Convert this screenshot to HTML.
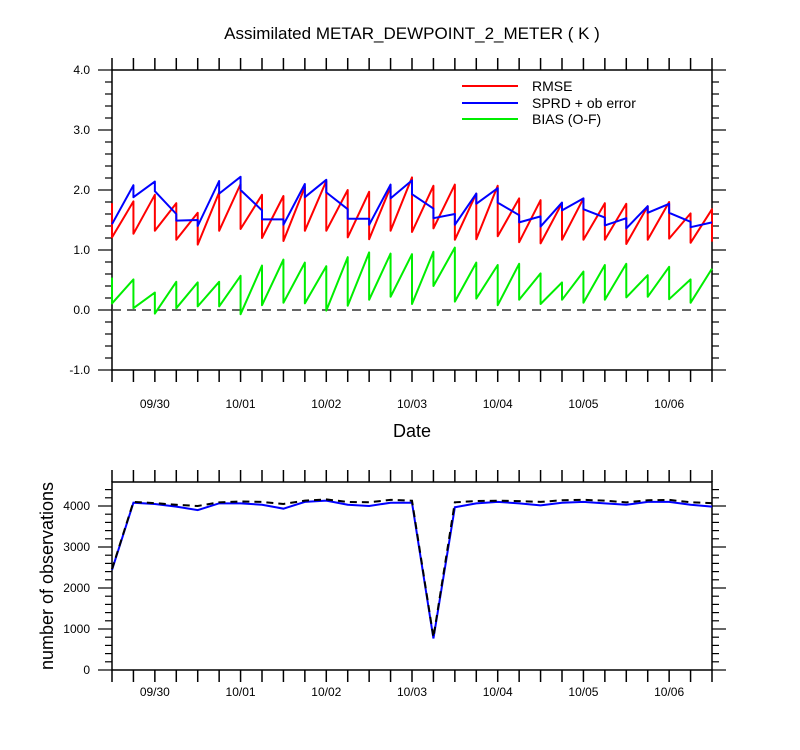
<!DOCTYPE html>
<html><head><meta charset="utf-8"><style>
body{margin:0;background:#fff;}
svg{display:block;font-family:"Liberation Sans",Helvetica,sans-serif;}
</style></head><body>
<svg id="chart" width="800" height="750" viewBox="0 0 800 750" xmlns="http://www.w3.org/2000/svg">
<text x="412" y="39" font-size="17" text-anchor="middle">Assimilated METAR_DEWPOINT_2_METER ( K )</text>
<text x="412" y="437" font-size="18" text-anchor="middle">Date</text>
<text transform="translate(53,576) rotate(-90)" font-size="18" text-anchor="middle">number of observations</text>
<g font-size="14">
<line x1="462" y1="86" x2="518" y2="86" stroke="#ff0000" stroke-width="2"/>
<text x="532" y="91">RMSE</text>
<line x1="462" y1="103" x2="518" y2="103" stroke="#0000ff" stroke-width="2"/>
<text x="532" y="108">SPRD + ob error</text>
<line x1="462" y1="119" x2="518" y2="119" stroke="#00ee00" stroke-width="2"/>
<text x="532" y="124">BIAS (O-F)</text>
</g>
<g id="g"></g>
</svg>
<script>
const dateLabels=["09/30","10/01","10/02","10/03","10/04","10/05","10/06"];
const rmsePrior=[1.78,1.81,1.92,1.78,1.62,1.96,2.1,1.92,1.9,2.05,2.15,2.0,1.97,2.05,2.21,2.07,2.09,1.94,2.07,1.86,1.83,1.78,1.86,1.78,1.77,1.73,1.8,1.61,1.68];
const rmsePost=[1.21,1.27,1.32,1.17,1.09,1.32,1.35,1.2,1.15,1.32,1.32,1.21,1.18,1.32,1.3,1.36,1.17,1.18,1.23,1.13,1.11,1.17,1.17,1.17,1.1,1.17,1.19,1.12,1.14];
const sprdPrior=[1.43,2.08,2.14,1.6,1.5,2.15,2.22,1.66,1.51,2.1,2.17,1.68,1.52,2.09,2.16,1.69,1.6,1.94,2.03,1.58,1.56,1.79,1.86,1.54,1.53,1.73,1.77,1.47,1.46];
const sprdPost=[1.43,1.88,1.98,1.49,1.4,1.94,2.0,1.51,1.42,1.88,1.96,1.52,1.42,1.86,1.93,1.53,1.42,1.77,1.79,1.46,1.39,1.66,1.68,1.41,1.36,1.62,1.62,1.38,1.46];
const biasPrior=[0.54,0.51,0.29,0.47,0.46,0.47,0.57,0.74,0.84,0.79,0.73,0.88,0.96,0.94,0.93,0.97,1.04,0.79,0.75,0.77,0.61,0.46,0.64,0.75,0.77,0.58,0.72,0.51,0.69];
const biasPost=[0.11,0.03,-0.06,0.03,0.06,0.06,-0.07,0.08,0.12,0.11,-0.01,0.07,0.17,0.22,0.1,0.4,0.14,0.19,0.08,0.17,0.1,0.17,0.12,0.17,0.21,0.22,0.18,0.12,0.69];
const obsUsed=[2440,4080,4050,3985,3900,4065,4065,4030,3935,4100,4130,4030,4000,4080,4080,770,3970,4065,4100,4065,4015,4080,4100,4065,4030,4100,4100,4030,3985];
const obsPossible=[2460,4100,4070,4030,4000,4090,4110,4100,4050,4130,4160,4100,4090,4150,4130,800,4090,4120,4130,4120,4100,4140,4150,4130,4090,4140,4150,4090,4070];
const topTicks=["-1.0","0.0","1.0","2.0","3.0","4.0"];
const botTicks=["0","1000","2000","3000","4000"];

const NS="http://www.w3.org/2000/svg";
const g=document.getElementById('g');
const X0=112,X1=712,N=28;
const xs=i=>X0+(X1-X0)*i/N;
const yTop=v=>310-v*60;
const yBot=v=>670-v*0.041;
function mk(tag,attrs){const e=document.createElementNS(NS,tag);for(const k in attrs)e.setAttribute(k,attrs[k]);g.appendChild(e);return e;}
function frame(y0,y1,name,labOff){
  const r=mk('rect',{x:X0,y:y0,width:X1-X0,height:y1-y0,fill:'none',stroke:'#000','stroke-width':1.5});
  
  
  for(let i=0;i<=N;i++){
    const x=xs(i);
    const t1=mk('line',{x1:x,y1:y0,x2:x,y2:y0-12,stroke:'#000','stroke-width':1.5});
    
    
    const t2=mk('line',{x1:x,y1:y1,x2:x,y2:y1+12,stroke:'#000','stroke-width':1.5});
    
    
  }
  dateLabels.forEach((d,k)=>{
    const t=mk('text',{x:xs(2+4*k),y:y1+labOff,'font-size':12,'text-anchor':'middle'});
    t.textContent=d;
    
    
  });
}
function yticks(vals,minorStep,lo,hi,yf,labels){
  for(let v=lo;v<=hi+1e-9;v+=minorStep){
    const y=yf(v);
    const major=Math.abs(v/vals-Math.round(v/vals))<1e-6;
    const len=major?14:7;
    const a=mk('line',{x1:X0,y1:y,x2:X0-len,y2:y,stroke:'#000','stroke-width':1.2});
    
    
    const b=mk('line',{x1:X1,y1:y,x2:X1+len,y2:y,stroke:'#000','stroke-width':1.2});
    
    
  }
  labels.forEach(l=>{
    const v=parseFloat(l);
    const t=mk('text',{x:X0-22,y:yf(v)+4,'font-size':12,'text-anchor':'end'});
    t.textContent=l;
    
    
  });
}
frame(70,370,'top-plot-frame',38);
yticks(1,0.2,-1,4,yTop,topTicks);
frame(482,670,'bottom-plot-frame',26);
yticks(1000,200,0,4585,yBot,botTicks);

const zl=mk('line',{x1:X0,y1:yTop(0),x2:X1,y2:yTop(0),stroke:'#333','stroke-width':1.5,'stroke-dasharray':'9,6'});



function saw(pr,po,col,name){
  let d='';
  pr.forEach((v,i)=>{d+=(i?'L':'M')+xs(i)+','+yTop(v)+'L'+xs(i)+','+yTop(po[i]);});
  const p=mk('path',{d:d,fill:'none',stroke:col,'stroke-width':2,'stroke-linejoin':'round'});
  
  
}
saw(biasPrior,biasPost,'#00ee00','bias-series');
saw(rmsePrior,rmsePost,'#ff0000','rmse-series');
saw(sprdPrior,sprdPost,'#0000ff','spread-series');

function line(arr,col,name,dash){
  const d=arr.map((v,i)=>(i?'L':'M')+xs(i)+','+yBot(v)).join('');
  const a={d:d,fill:'none',stroke:col,'stroke-width':2};
  if(dash)a['stroke-dasharray']=dash;
  const p=mk('path',a);
  
  
}
line(obsUsed,'#0000ff','obs-assimilated-series');
line(obsPossible,'#000','obs-possible-series','7,5');
</script>
</body></html>
